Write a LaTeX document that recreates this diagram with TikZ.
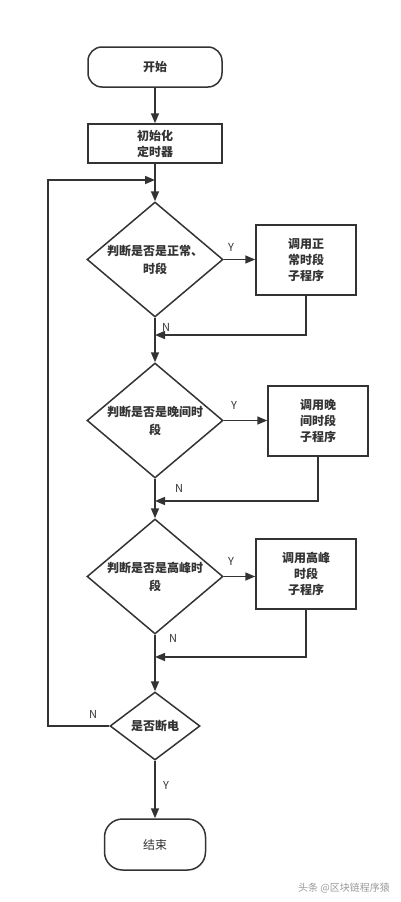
\documentclass[tikz,border=0pt]{standalone}
\usepackage{fontspec}
\setmainfont{Noto Sans CJK SC}
\usetikzlibrary{shapes.geometric,arrows.meta}
\definecolor{dunkel}{HTML}{333333}
\tikzset{
  basis/.style={draw=dunkel, line width=1.5pt, text=dunkel, align=center, inner sep=0pt,
    font=\bfseries\fontsize{12}{16}\selectfont},
  terminal/.style={basis, rounded corners=14pt, minimum width=134pt, minimum height=40pt},
  prozess/.style={basis, minimum width=100pt, minimum height=70pt},
  entscheid/.style={basis, diamond, aspect=1.2, minimum width=136pt, minimum height=115pt,
    font=\bfseries\fontsize{12}{18}\selectfont},
  pfeil/.style={draw=dunkel, line width=1.5pt, -{Triangle[length=10pt,width=8pt]}},
  marke/.style={text=dunkel, inner sep=0pt, font=\fontsize{11}{13}\selectfont}
}
\begin{document}
\begin{tikzpicture}[x=1pt,y=-1pt]
        \useasboundingbox (0,0) rectangle (400,902);

        % Knoten
        \node[terminal] (start) at (155,67) {开始};
        \node[prozess, minimum width=134pt, minimum height=39pt] (init) at (155,143.5) {初始化\\定时器};
        \node[entscheid] (d1) at (155,259.5) {判断是否是正常、\\时段};
        \node[prozess] (p1) at (306,260) {调用正\\常时段\\子程序};
        \node[entscheid] (d2) at (155,420.5) {判断是否是晚间时\\段};
        \node[prozess] (p2) at (318,421) {调用晚\\间时段\\子程序};
        \node[entscheid] (d3) at (155,576.5) {判断是否是高峰时\\段};
        \node[prozess] (p3) at (306,574) {调用高峰\\时段\\子程序};
        \node[entscheid, minimum width=90pt, minimum height=68pt] (d4) at (155,726) {是否断电};
        \node[terminal, minimum width=101pt, minimum height=51pt, rounded corners=18pt,
          font=\fontsize{12}{16}\selectfont] (ende) at (155,844.5) {结束};

        % Zusammenfuehrungen
        \coordinate (m0) at (155,180);
        \coordinate (m1) at (155,335);
        \coordinate (m2) at (155,501);
        \coordinate (m3) at (155,657);
        \coordinate (links) at (48,180);

        % Pfeile
        \draw[pfeil] (start) -- (init);
        \draw[pfeil] (init) -- (d1);
        \draw[pfeil] (d1.east) -- (d1.east -| p1.west);
        \draw[pfeil] (d1) -- (d2);
        \draw[pfeil] (p1.south) |- (m1);
        \draw[pfeil] (d2.east) -- (d2.east -| p2.west);
        \draw[pfeil] (d2) -- (d3);
        \draw[pfeil] (p2.south) |- (m2);
        \draw[pfeil] (d3.east) -- (d3.east -| p3.west);
        \draw[pfeil] (d3) -- (d4);
        \draw[pfeil] (p3.south) |- (m3);
        \draw[pfeil] (d4.west) -| (links) -- (m0);
        \draw[pfeil] (d4) -- (ende);

        % Beschriftungen
        \node[marke] (y1) at (231,247) {Y};
        \node[marke] (n1) at (166,327) {N};
        \node[marke] (y2) at (234,405) {Y};
        \node[marke] (n2) at (179,488) {N};
        \node[marke] (y3) at (231,561) {Y};
        \node[marke] (n3) at (173,638) {N};
        \node[marke] (n4) at (93,714) {N};
        \node[marke] (y4) at (166,785) {Y};
        \node[text=gray!80, inner sep=0pt, font=\fontsize{10}{12}\selectfont] (wz) at (344,888) {头条 @区块链程序猿};
    \end{tikzpicture}
\end{document}
